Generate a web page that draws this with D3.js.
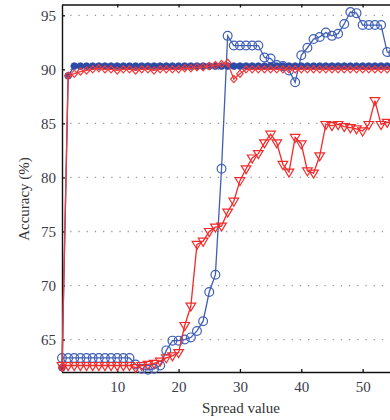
<!DOCTYPE html>
<html>
<head>
<meta charset="utf-8">
<script src="https://cdn.jsdelivr.net/npm/d3@7"></script>
<style>
  body { margin: 0; background: #fff; }
  text { font-family: "Liberation Serif", "DejaVu Serif", serif; fill: #333; }
</style>
</head>
<body>
<div id="chart"></div>
<script>
// spread values (x) shared by all series
const spread = [1,2,3,4,5,6,7,8,9,10,11,12,13,14,15,16,17,18,19,20,21,22,23,24,25,26,27,28,
  29,30,31,32,33,34,35,36,37,38,39,40,41,42,43,44,45,46,47,48,49,50,51,52,53,54,55,56];

// blue open circles
const blueOpen = [63.3,63.3,63.3,63.3,63.3,63.3,63.3,63.3,63.3,63.3,63.3,63.3,62.7,62.3,62.2,62.3,
  62.6,64.0,64.9,64.9,65.0,65.2,65.8,66.7,69.4,71.0,80.8,93.1,92.2,92.2,92.2,92.2,92.2,91.1,91.0,
  90.4,90.3,89.9,88.8,91.3,92.0,92.8,93.0,93.4,93.1,93.3,94.2,95.3,95.2,94.1,94.1,94.1,94.1,91.6,91.5,91.4];

// blue filled circles
const blueFilled = [62.4,89.4,90.3,90.3,90.3,90.3,90.3,90.3,90.3,90.3,90.3,90.3,90.3,90.3,90.3,90.3,
  90.3,90.3,90.3,90.3,90.3,90.3,90.3,90.3,90.3,90.3,90.3,90.3,90.3,90.3,90.3,90.3,90.3,90.3,90.3,
  90.3,90.3,90.3,90.3,90.3,90.3,90.3,90.3,90.3,90.3,90.3,90.3,90.3,90.3,90.3,90.3,90.3,90.3,90.3,90.3,90.3];

// red open diamonds
const redDiamond = [62.4,89.4,89.6,89.8,89.9,90.0,90.1,90.0,90.0,89.9,90.0,90.0,89.9,90.0,90.0,89.9,
  90.0,90.0,90.0,90.0,90.1,90.1,90.2,90.2,90.3,90.4,90.5,90.6,89.1,89.6,90.0,90.0,90.0,90.0,90.0,
  90.0,90.0,90.0,90.0,90.0,90.0,90.0,90.0,90.0,90.0,90.0,90.0,90.0,90.0,90.0,90.0,90.0,90.0,90.0,90.0,90.0];

// red open down-triangles
const redTriangle = [62.6,62.6,62.6,62.6,62.6,62.6,62.6,62.6,62.6,62.6,62.6,62.6,62.4,62.6,62.7,62.8,
  63.0,63.3,63.5,63.8,66.3,68.1,73.8,74.1,75.0,75.4,75.5,76.8,77.8,79.7,80.8,81.8,82.2,83.2,84.0,
  83.2,81.2,80.5,83.7,83.1,80.6,80.4,82.0,84.9,84.8,84.9,84.7,84.6,84.5,84.3,84.9,87.1,84.9,85.1,85.0,85.0];

const yTicks = [65, 70, 75, 80, 85, 90, 95];
const xTicks = [10, 20, 30, 40, 50];

const W = 390, H = 420;
const plot = { left: 62, top: 4.5, bottom: 372, right: 424 };

const svg = d3.select("#chart").append("svg")
  .attr("width", W).attr("height", H);

const x = d3.scaleLinear().domain([1, 60]).range([plot.left, plot.right]);
const y = d3.scaleLinear().domain([62, 96]).range([plot.bottom, plot.top]);

// dotted grid
svg.selectAll(".grid")
  .data(yTicks)
  .enter().append("line")
  .attr("x1", plot.left).attr("x2", W)
  .attr("y1", d => y(d)).attr("y2", d => y(d))
  .style("stroke", "#9a9a9a")
  .style("stroke-width", 1.3)
  .style("stroke-dasharray", "1.3,6.9");

// axes
const gy = svg.append("g")
  .attr("transform", `translate(${plot.left},0)`)
  .call(d3.axisLeft(y).tickValues(yTicks).tickSize(-3).tickPadding(6).tickSizeOuter(0));
const gx = svg.append("g")
  .attr("transform", `translate(0,${plot.bottom})`)
  .call(d3.axisBottom(x).tickValues(xTicks).tickSize(-3).tickPadding(9).tickSizeOuter(0));
const gt = svg.append("g")
  .attr("transform", `translate(0,${plot.top})`)
  .call(d3.axisTop(x).tickValues(xTicks).tickSize(-3).tickFormat("").tickSizeOuter(0));

[gy, gx, gt].forEach(g => {
  g.selectAll("path").style("stroke", "#111").style("stroke-width", 1.4);
  g.selectAll("line").style("stroke", "#111").style("stroke-width", 1.3);
  g.selectAll("text").style("font-size", "15px").style("font-family", "Liberation Serif, serif").style("fill", "#3a3a48");
});
gx.select(".domain").attr("d", `M${plot.left},0.5H${W}`);
gt.select(".domain").attr("d", `M${plot.left},0.5H${W}`);

// series
const line = d3.line().x((d, i) => x(spread[i])).y(d => y(d));
const series = [
  { name: "blueOpen", values: blueOpen, color: "#3f5fb5", marker: "circle" },
  { name: "blueFilled", values: blueFilled, color: "#2b49a6", marker: "dot" },
  { name: "redDiamond", values: redDiamond, color: "#f23a3a", marker: "diamond" },
  { name: "redTriangle", values: redTriangle, color: "#f22a2a", marker: "triangle" }
];

series.forEach(s => {
  svg.append("path")
    .attr("d", line(s.values))
    .style("fill", "none")
    .style("stroke", s.color)
    .style("stroke-width", 1.3);

  const pts = svg.selectAll(".m-" + s.name)
    .data(s.values)
    .enter();

  if (s.marker === "circle") {
    pts.append("circle")
      .attr("cx", (d, i) => x(spread[i])).attr("cy", d => y(d))
      .attr("r", 4.4)
      .style("fill", "none").style("stroke", s.color).style("stroke-width", 1.2);
  } else if (s.marker === "dot") {
    pts.append("circle")
      .attr("cx", (d, i) => x(spread[i])).attr("cy", d => y(d))
      .attr("r", 3.4)
      .style("fill", s.color).style("stroke", s.color).style("stroke-width", 0.8);
  } else if (s.marker === "diamond") {
    pts.append("path")
      .attr("transform", (d, i) => `translate(${x(spread[i])},${y(d)})`)
      .attr("d", "M0,-3.6L3.2,0L0,3.6L-3.2,0Z")
      .style("fill", "none").style("stroke", s.color).style("stroke-width", 1.2);
  } else {
    pts.append("path")
      .attr("transform", (d, i) => `translate(${x(spread[i])},${y(d)})`)
      .attr("d", "M-4.8,-3L4.8,-3L0,5Z")
      .style("fill", "none").style("stroke", s.color).style("stroke-width", 1.2);
  }
});

// axis titles
svg.append("text")
  .attr("x", 241).attr("y", 413)
  .attr("text-anchor", "middle")
  .style("font-size", "15px")
  .text("Spread value");

svg.append("text")
  .attr("transform", "translate(29,199) rotate(-90)")
  .attr("text-anchor", "middle")
  .style("font-size", "15px")
  .text("Accuracy (%)");
</script>
</body>
</html>
